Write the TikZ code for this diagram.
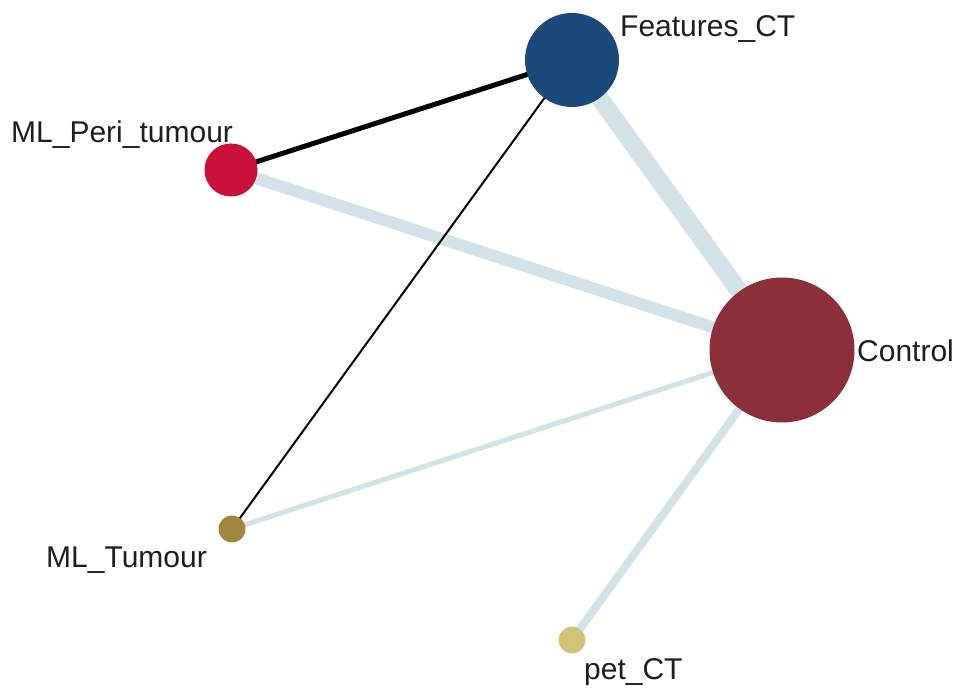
\documentclass[tikz,border=0pt]{standalone}
\usepackage{fontspec}
\setmainfont{Liberation Sans}
\definecolor{cfeat}{HTML}{1A4A7A}
\definecolor{cperi}{HTML}{C8103A}
\definecolor{cctrl}{HTML}{8B2F3B}
\definecolor{ctum}{HTML}{A0853F}
\definecolor{cpet}{HTML}{D3C47A}
\definecolor{cedge}{HTML}{D4E3E9}
\definecolor{ctext}{HTML}{1E1E1E}
\begin{document}
\begin{tikzpicture}[x=1pt,y=-1pt,
  dot/.style={circle,inner sep=0pt,draw=none},
  lab/.style={anchor=base west,inner sep=0pt,text=ctext,font=\fontsize{30}{36}\selectfont},
  lightedge/.style={draw=cedge},
  darkedge/.style={draw=black}]
\useasboundingbox (0,0) rectangle (969,695);
\fill[white] (0,0) rectangle (969,695);
\node[dot,minimum size=94pt] (feat) at (572,60) {};
\node[dot,minimum size=53pt] (peri) at (231,170) {};
\node[dot,minimum size=145pt] (ctrl) at (782,350) {};
\node[dot,minimum size=27pt] (tum) at (232,529) {};
\node[dot,minimum size=27pt] (pet) at (572,640) {};
% edges drawn center to center, then nodes painted on top
\draw[lightedge,line width=18pt] (feat.center) -- (ctrl.center);
\draw[lightedge,line width=12pt] (peri.center) -- (ctrl.center);
\draw[lightedge,line width=5pt] (tum.center) -- (ctrl.center);
\draw[lightedge,line width=8pt] (pet.center) -- (ctrl.center);
\draw[darkedge,line width=5pt] (peri.center) -- (feat.center);
\draw[darkedge,line width=2pt] (tum.center) -- (feat.center);
\fill[cfeat] (feat.center) circle (47);
\fill[cperi] (peri.center) circle (26.5);
\fill[cctrl] (ctrl.center) circle (72.5);
\fill[ctum] (tum.center) circle (13.5);
\fill[cpet] (pet.center) circle (13.5);
\node[lab] (lfeat) at (620,37) {Features\_CT};
\node[lab] (lperi) at (11,143) {ML\_Peri\_tumour};
\node[lab] (lctrl) at (857,361) {Control};
\node[lab] (ltum) at (46,567) {ML\_Tumour};
\node[lab] (lpet) at (584,679) {pet\_CT};
\end{tikzpicture}
\end{document}
